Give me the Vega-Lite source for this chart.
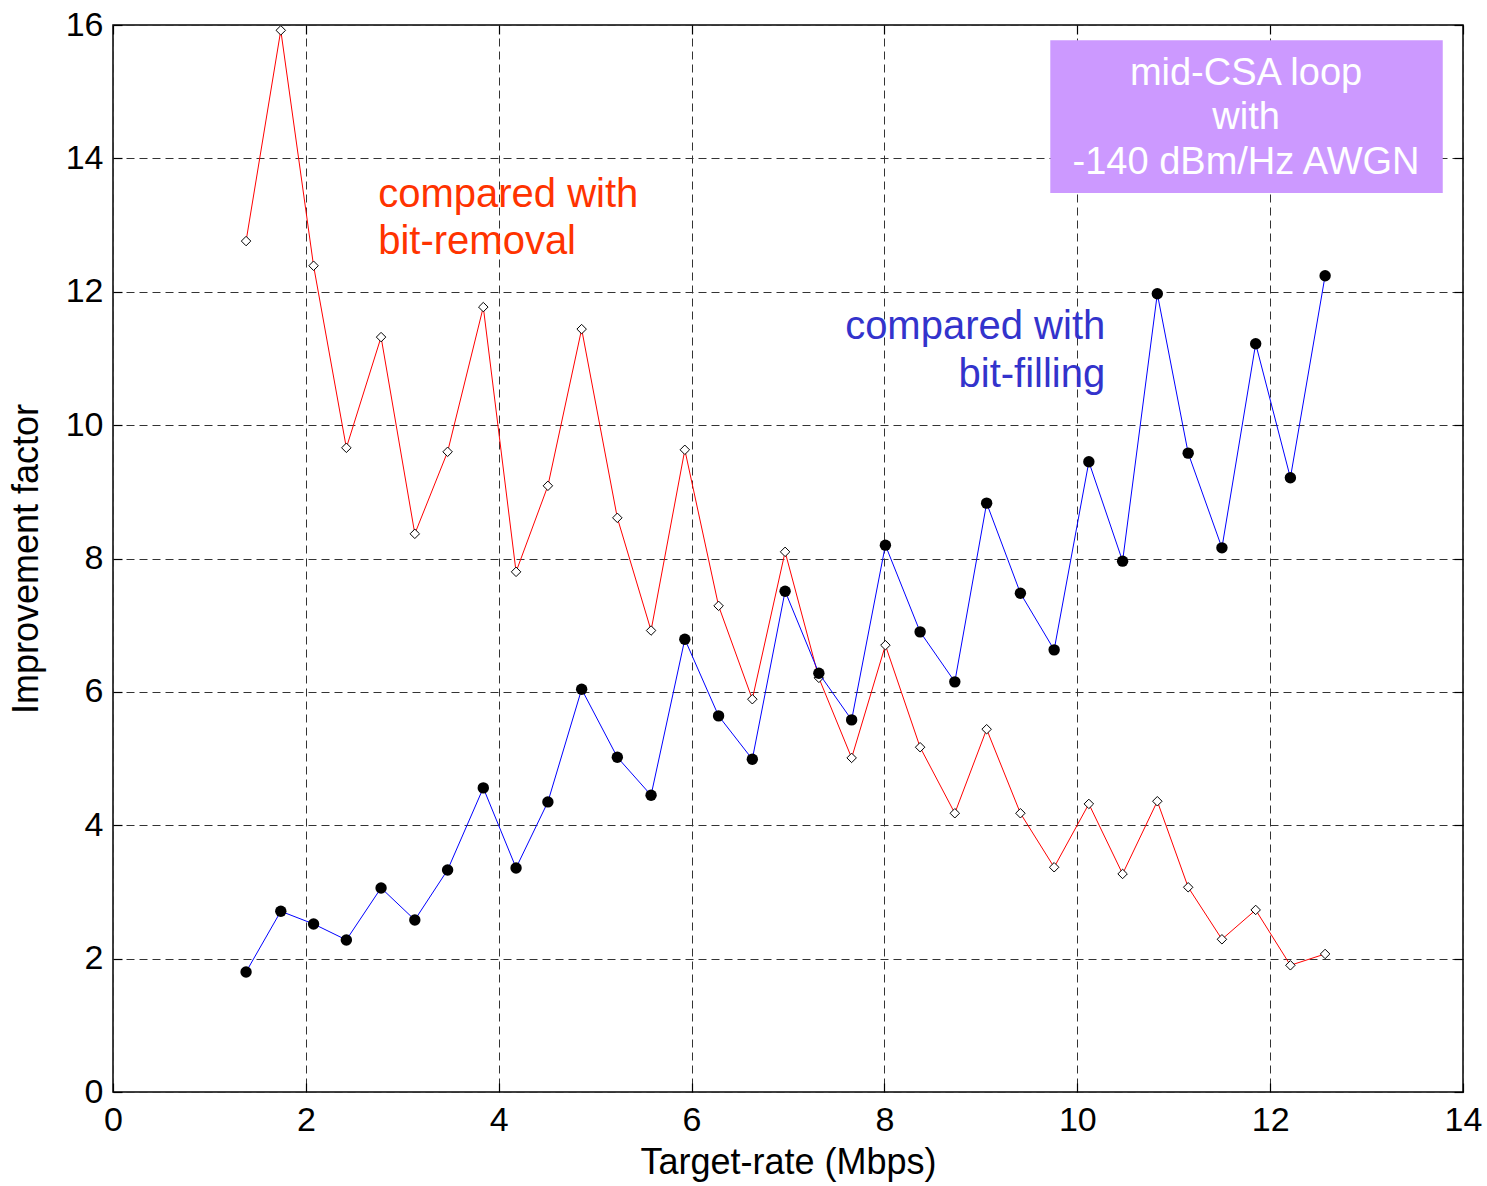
{
  "$schema": "https://vega.github.io/schema/vega-lite/v6.json",
  "width": 1350,
  "height": 1067,
  "autosize": {"type": "none"},
  "padding": {"left": 113, "top": 25, "right": 24, "bottom": 94},
  "background": "white",
  "config": {
    "font": "Liberation Sans",
    "view": {"stroke": "black", "strokeWidth": 1.5},
    "axis": {
      "labelFont": "Liberation Sans",
      "titleFont": "Liberation Sans",
      "labelColor": "black",
      "titleColor": "black",
      "titleFontWeight": "normal",
      "labelFontSize": 34,
      "titleFontSize": 36,
      "domain": false,
      "tickColor": "black",
      "tickWidth": 1.2,
      "gridColor": "#333333",
      "gridDash": [8, 5],
      "gridOpacity": 1,
      "gridWidth": 1,
      "labelFlush": false,
      "labelOverlap": false
    }
  },
  "datasets": {
    "curves": [
      {"rate": 1.38, "series": "bit-removal", "factor": 12.76},
      {"rate": 1.74, "series": "bit-removal", "factor": 15.92},
      {"rate": 2.08, "series": "bit-removal", "factor": 12.39},
      {"rate": 2.42, "series": "bit-removal", "factor": 9.66},
      {"rate": 2.78, "series": "bit-removal", "factor": 11.32},
      {"rate": 3.13, "series": "bit-removal", "factor": 8.37},
      {"rate": 3.47, "series": "bit-removal", "factor": 9.6},
      {"rate": 3.84, "series": "bit-removal", "factor": 11.77},
      {"rate": 4.18, "series": "bit-removal", "factor": 7.8},
      {"rate": 4.51, "series": "bit-removal", "factor": 9.09},
      {"rate": 4.86, "series": "bit-removal", "factor": 11.44},
      {"rate": 5.23, "series": "bit-removal", "factor": 8.61},
      {"rate": 5.58, "series": "bit-removal", "factor": 6.92},
      {"rate": 5.93, "series": "bit-removal", "factor": 9.63},
      {"rate": 6.28, "series": "bit-removal", "factor": 7.29},
      {"rate": 6.63, "series": "bit-removal", "factor": 5.89},
      {"rate": 6.97, "series": "bit-removal", "factor": 8.1},
      {"rate": 7.32, "series": "bit-removal", "factor": 6.21},
      {"rate": 7.66, "series": "bit-removal", "factor": 5.01},
      {"rate": 8.01, "series": "bit-removal", "factor": 6.7},
      {"rate": 8.37, "series": "bit-removal", "factor": 5.17},
      {"rate": 8.73, "series": "bit-removal", "factor": 4.18},
      {"rate": 9.06, "series": "bit-removal", "factor": 5.44},
      {"rate": 9.41, "series": "bit-removal", "factor": 4.18},
      {"rate": 9.76, "series": "bit-removal", "factor": 3.37},
      {"rate": 10.12, "series": "bit-removal", "factor": 4.32},
      {"rate": 10.47, "series": "bit-removal", "factor": 3.27},
      {"rate": 10.83, "series": "bit-removal", "factor": 4.36},
      {"rate": 11.15, "series": "bit-removal", "factor": 3.07},
      {"rate": 11.5, "series": "bit-removal", "factor": 2.29},
      {"rate": 11.85, "series": "bit-removal", "factor": 2.73},
      {"rate": 12.21, "series": "bit-removal", "factor": 1.9},
      {"rate": 12.57, "series": "bit-removal", "factor": 2.07},
      {"rate": 1.38, "series": "bit-filling", "factor": 1.8},
      {"rate": 1.74, "series": "bit-filling", "factor": 2.71},
      {"rate": 2.08, "series": "bit-filling", "factor": 2.52},
      {"rate": 2.42, "series": "bit-filling", "factor": 2.28},
      {"rate": 2.78, "series": "bit-filling", "factor": 3.06},
      {"rate": 3.13, "series": "bit-filling", "factor": 2.58},
      {"rate": 3.47, "series": "bit-filling", "factor": 3.33},
      {"rate": 3.84, "series": "bit-filling", "factor": 4.56},
      {"rate": 4.18, "series": "bit-filling", "factor": 3.36},
      {"rate": 4.51, "series": "bit-filling", "factor": 4.35},
      {"rate": 4.86, "series": "bit-filling", "factor": 6.04},
      {"rate": 5.23, "series": "bit-filling", "factor": 5.02},
      {"rate": 5.58, "series": "bit-filling", "factor": 4.45},
      {"rate": 5.93, "series": "bit-filling", "factor": 6.79},
      {"rate": 6.28, "series": "bit-filling", "factor": 5.64},
      {"rate": 6.63, "series": "bit-filling", "factor": 4.99},
      {"rate": 6.97, "series": "bit-filling", "factor": 7.51},
      {"rate": 7.32, "series": "bit-filling", "factor": 6.28},
      {"rate": 7.66, "series": "bit-filling", "factor": 5.58},
      {"rate": 8.01, "series": "bit-filling", "factor": 8.2},
      {"rate": 8.37, "series": "bit-filling", "factor": 6.9},
      {"rate": 8.73, "series": "bit-filling", "factor": 6.15},
      {"rate": 9.06, "series": "bit-filling", "factor": 8.83},
      {"rate": 9.41, "series": "bit-filling", "factor": 7.48},
      {"rate": 9.76, "series": "bit-filling", "factor": 6.63},
      {"rate": 10.12, "series": "bit-filling", "factor": 9.45},
      {"rate": 10.47, "series": "bit-filling", "factor": 7.96},
      {"rate": 10.83, "series": "bit-filling", "factor": 11.97},
      {"rate": 11.15, "series": "bit-filling", "factor": 9.58},
      {"rate": 11.5, "series": "bit-filling", "factor": 8.16},
      {"rate": 11.85, "series": "bit-filling", "factor": 11.22},
      {"rate": 12.21, "series": "bit-filling", "factor": 9.21},
      {"rate": 12.57, "series": "bit-filling", "factor": 12.24}
    ],
    "boxText": [
      {"label": "mid-CSA loop", "rate": 11.75, "factor": 15.27},
      {"label": "with", "rate": 11.75, "factor": 14.6},
      {"label": "-140 dBm/Hz AWGN", "rate": 11.75, "factor": 13.93}
    ],
    "redText": [
      {"label": "compared with", "rate": 2.75, "factor": 13.45},
      {"label": "bit-removal", "rate": 2.75, "factor": 12.75}
    ],
    "blueText": [
      {"label": "compared with", "rate": 10.29, "factor": 11.47},
      {"label": "bit-filling", "rate": 10.29, "factor": 10.75}
    ]
  },
  "resolve": {"axis": {"x": "independent", "y": "independent"}},
  "layer": [
    {
      "data": {"values": [{}]},
      "mark": {"type": "rect", "color": "#CC99FF", "opacity": 1},
      "encoding": {
        "x": {"datum": 9.72, "type": "quantitative",
              "scale": {"domain": [0, 14], "nice": false, "zero": false},
              "axis": {"orient": "bottom", "values": [0, 2, 4, 6, 8, 10, 12, 14], "title": "Target-rate (Mbps)",
                       "grid": true, "tickSize": -9, "labelPadding": 20, "titlePadding": 8}},
        "x2": {"datum": 13.79},
        "y": {"datum": 15.77, "type": "quantitative",
              "scale": {"domain": [0, 16], "nice": false, "zero": false},
              "axis": {"orient": "left", "values": [0, 2, 4, 6, 8, 10, 12, 14, 16], "title": "Improvement  factor",
                       "grid": true, "tickSize": -9, "labelPadding": 19, "titlePadding": 20}},
        "y2": {"datum": 13.48}
      }
    },
    {
      "data": {"values": [{}]},
      "mark": {"type": "rect", "opacity": 0},
      "encoding": {
        "x": {"datum": 9.72, "type": "quantitative",
              "axis": {"orient": "top", "values": [0, 2, 4, 6, 8, 10, 12, 14], "title": null, "labels": false,
                       "grid": false, "tickSize": -9}},
        "x2": {"datum": 13.79},
        "y": {"datum": 15.77, "type": "quantitative",
              "axis": {"orient": "right", "values": [0, 2, 4, 6, 8, 10, 12, 14, 16], "title": null, "labels": false,
                       "grid": false, "tickSize": -9}},
        "y2": {"datum": 13.48}
      }
    },
    {
      "data": {"name": "boxText"},
      "mark": {"type": "text", "color": "white", "fontSize": 38, "font": "Liberation Sans", "align": "center", "baseline": "middle"},
      "encoding": {
        "x": {"field": "rate", "type": "quantitative", "axis": null},
        "y": {"field": "factor", "type": "quantitative", "axis": null},
        "text": {"field": "label"}
      }
    },
    {
      "data": {"name": "curves"},
      "transform": [{"filter": "datum.series === 'bit-removal'"}],
      "mark": {"type": "line", "color": "#FF0000", "strokeWidth": 1},
      "encoding": {
        "x": {"field": "rate", "type": "quantitative", "axis": null},
        "y": {"field": "factor", "type": "quantitative", "axis": null}
      }
    },
    {
      "data": {"name": "curves"},
      "transform": [{"filter": "datum.series === 'bit-removal'"}],
      "mark": {"type": "point", "shape": "diamond", "filled": true, "fill": "white", "stroke": "black", "strokeWidth": 1, "size": 90, "opacity": 1},
      "encoding": {
        "x": {"field": "rate", "type": "quantitative", "axis": null},
        "y": {"field": "factor", "type": "quantitative", "axis": null}
      }
    },
    {
      "data": {"name": "curves"},
      "transform": [{"filter": "datum.series === 'bit-filling'"}],
      "mark": {"type": "line", "color": "#0000FF", "strokeWidth": 1},
      "encoding": {
        "x": {"field": "rate", "type": "quantitative", "axis": null},
        "y": {"field": "factor", "type": "quantitative", "axis": null}
      }
    },
    {
      "data": {"name": "curves"},
      "transform": [{"filter": "datum.series === 'bit-filling'"}],
      "mark": {"type": "circle", "color": "black", "size": 130, "opacity": 1},
      "encoding": {
        "x": {"field": "rate", "type": "quantitative", "axis": null},
        "y": {"field": "factor", "type": "quantitative", "axis": null}
      }
    },
    {
      "data": {"name": "redText"},
      "mark": {"type": "text", "color": "#FF3300", "fontSize": 40, "font": "Liberation Sans", "align": "left", "baseline": "middle"},
      "encoding": {
        "x": {"field": "rate", "type": "quantitative", "axis": null},
        "y": {"field": "factor", "type": "quantitative", "axis": null},
        "text": {"field": "label"}
      }
    },
    {
      "data": {"name": "blueText"},
      "mark": {"type": "text", "color": "#3333CC", "fontSize": 40, "font": "Liberation Sans", "align": "right", "baseline": "middle"},
      "encoding": {
        "x": {"field": "rate", "type": "quantitative", "axis": null},
        "y": {"field": "factor", "type": "quantitative", "axis": null},
        "text": {"field": "label"}
      }
    }
  ]
}
